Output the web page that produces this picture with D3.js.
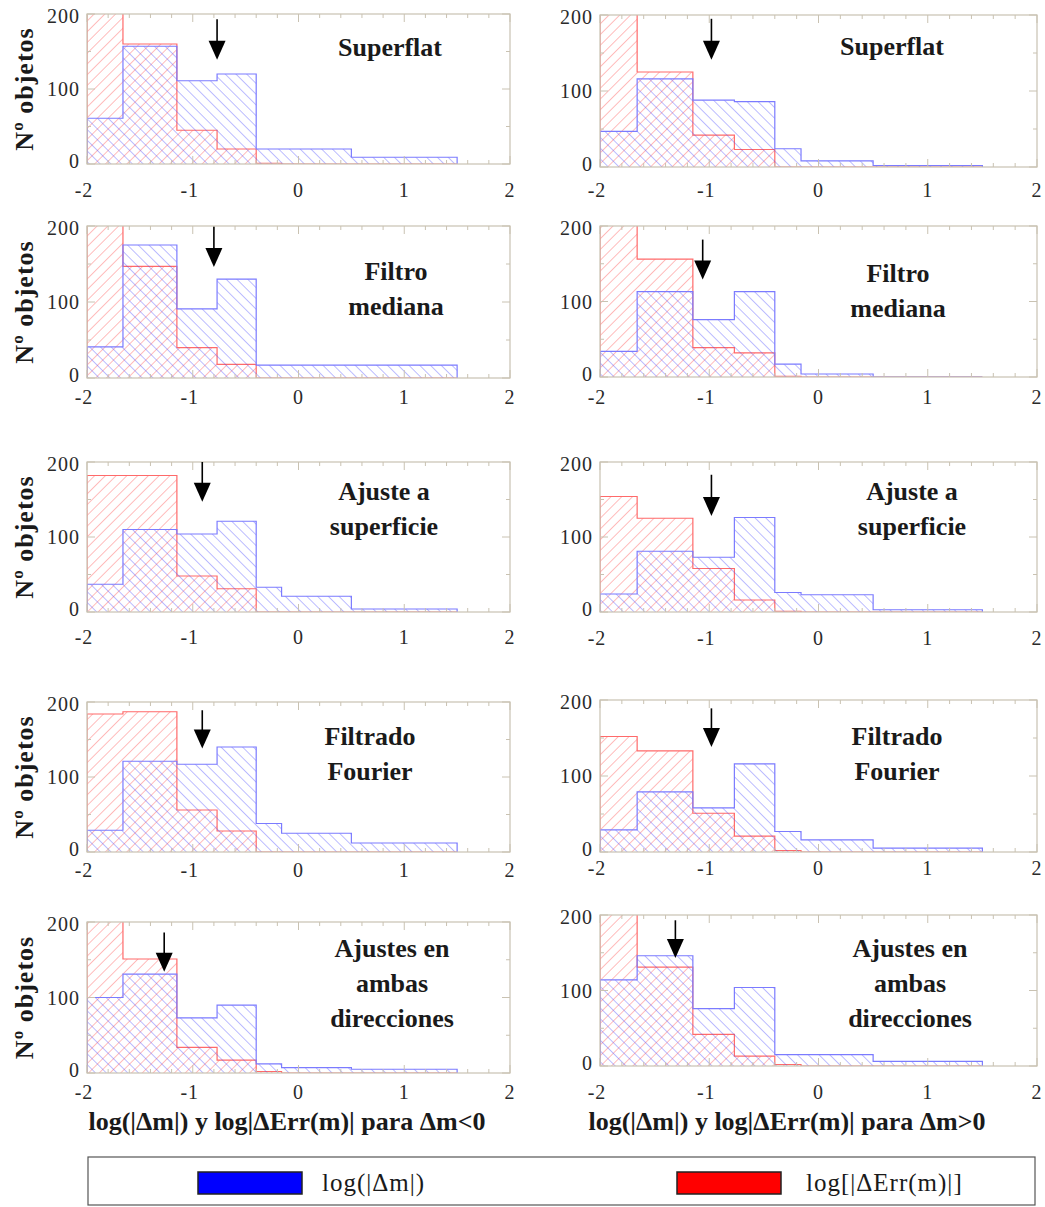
<!DOCTYPE html>
<html>
<head>
<meta charset="utf-8">
<script src="https://cdn.jsdelivr.net/npm/d3@7"></script>
<style>
  html, body { margin: 0; padding: 0; background: #ffffff; }
  svg { display: block; }
  .tick-label { font-family: "Liberation Serif", "DejaVu Serif", serif; font-size: 20px; fill: #2a2a2a; letter-spacing: 1px; }
  .bold-label { font-family: "Liberation Serif", "DejaVu Serif", serif; font-weight: bold; font-size: 26px; fill: #1a1a1a; }
  .legend-label { font-family: "Liberation Serif", "DejaVu Serif", serif; font-size: 25px; fill: #1a1a1a; letter-spacing: 1px; }
</style>
</head>
<body>
<svg id="chart" width="1045" height="1207"></svg>
<script>
// Histogram bin edges in log10 units (shared by every panel)
const binEdges = [-2, -1.66, -1.15, -0.77, -0.40, -0.16, 0.50, 1.50];

// Methods, one per row
const methods = ["Superflat", "Filtro\nmediana", "Ajuste a\nsuperficie", "Filtrado\nFourier", "Ajustes en\nambas\ndirecciones"];

// Counts per bin, Δm < 0 (left column); values above 200 run off the top of the frame
const blueNeg = [
  [61, 157, 111, 120, 20, 20, 9],
  [41, 175, 91, 130, 17, 17, 17],
  [37, 110, 104, 121, 33, 21, 4],
  [29, 121, 117, 140, 38, 25, 12],
  [100, 131, 73, 90, 12, 7, 5]
];
const redNeg = [
  [230, 160, 45, 20, 1, 0, 0],
  [230, 147, 40, 18, 0, 0, 0],
  [182, 182, 48, 31, 0, 0, 0],
  [184, 187, 56, 28, 0, 0, 0],
  [230, 151, 34, 17, 2, 0, 0]
];

// Counts per bin, Δm > 0 (right column)
const bluePos = [
  [47, 116, 88, 86, 24, 8, 2],
  [34, 113, 76, 113, 17, 4, 0],
  [24, 81, 73, 126, 26, 23, 3],
  [29, 79, 58, 116, 27, 16, 5],
  [114, 146, 76, 104, 15, 15, 6]
];
const redPos = [
  [230, 125, 42, 23, 0, 0, 0],
  [230, 156, 39, 32, 1, 0, 0],
  [154, 125, 58, 16, 1, 0, 0],
  [152, 133, 51, 21, 2, 0, 0],
  [230, 131, 42, 13, 2, 0, 0]
];

// Marker arrows: [x position, y of tail, y of tip] in data units
const arrowsNeg = [[-0.77, 193, 139], [-0.80, 199, 146], [-0.91, 200, 147], [-0.91, 189, 138], [-1.27, 186, 134]];
const arrowsPos = [[-0.98, 195, 141], [-1.06, 182, 129], [-0.98, 183, 128], [-0.98, 189, 138], [-1.31, 193, 143]];

// Axis ticks
const xTicks = [-2, -1, 0, 1, 2];
const yTicks = [0, 100, 200];
const xTitles = ["log(|\u0394m|) y log|\u0394Err(m)| para \u0394m<0", "log(|\u0394m|) y log|\u0394Err(m)| para \u0394m>0"];
const yTitle = "N\u00BA objetos";
const legendLabels = ["log(|\u0394m|)", "log[|\u0394Err(m)|]"];

// ---- layout ----
const columns = [
  { x0: 87, x1: 510, frames: [[14, 164], [226, 378], [462, 612], [702, 852], [922, 1073]],
    tickY: [190, 397, 637, 870, 1092], labelX: [390, 396, 384, 370, 392], labelY: [56, 280, 500, 745, 957],
    blue: blueNeg, red: redNeg, arrows: arrowsNeg, titleX: 287 },
  { x0: 600, x1: 1037, frames: [[15, 167], [226, 377], [462, 612], [700, 852], [915, 1066]],
    tickY: [190, 397, 638, 868, 1092], labelX: [892, 898, 912, 897, 910], labelY: [55, 282, 500, 745, 957],
    blue: bluePos, red: redPos, arrows: arrowsPos, titleX: 787 }
];
const lineGap = 35;

const svg = d3.select("#chart");
const defs = svg.append("defs");

function hatch(id, color, angle) {
  const p = defs.append("pattern")
    .attr("id", id)
    .attr("patternUnits", "userSpaceOnUse")
    .attr("width", 7.6).attr("height", 7.6)
    .attr("patternTransform", `rotate(${angle})`);
  p.append("line")
    .attr("x1", 0).attr("y1", -1).attr("x2", 0).attr("y2", 9)
    .attr("stroke", color).attr("stroke-width", 1.3);
}
hatch("hatch-blue", "rgba(70,70,255,0.55)", -45);
hatch("hatch-red", "rgba(255,70,70,0.55)", 45);

columns.forEach((col, ci) => {
  col.frames.forEach((fr, ri) => {
    const x = d3.scaleLinear().domain([-2, 2]).range([col.x0, col.x1]);
    const y = d3.scaleLinear().domain([0, 200]).range([fr[1], fr[0]]);
    const g = svg.append("g");
    const clipId = `clip-${ci}-${ri}`;
    defs.append("clipPath").attr("id", clipId)
      .append("rect").attr("x", col.x0).attr("y", fr[0])
      .attr("width", col.x1 - col.x0).attr("height", fr[1] - fr[0]);

    const plot = g.append("g").attr("clip-path", `url(#${clipId})`);

    const bins = (vals) => vals.map((v, i) => ({ x0: binEdges[i], x1: binEdges[i + 1], v }));
    const stepPath = (vals) => {
      const pts = [[binEdges[0], 0]];
      vals.forEach((v, i) => { pts.push([binEdges[i], v]); pts.push([binEdges[i + 1], v]); });
      pts.push([binEdges[binEdges.length - 1], 0]);
      return d3.line().x(d => x(d[0])).y(d => y(d[1]))(pts);
    };

    [["red", col.red[ri], "url(#hatch-red)", "#ff6a6a"],
     ["blue", col.blue[ri], "url(#hatch-blue)", "#7b7bff"]].forEach(([name, vals, fill, stroke]) => {
      plot.append("g").selectAll("rect").data(bins(vals)).join("rect")
        .attr("x", d => x(d.x0)).attr("width", d => x(d.x1) - x(d.x0))
        .attr("y", d => y(d.v)).attr("height", d => y(0) - y(d.v))
        .attr("fill", fill);
      plot.append("path").attr("d", stepPath(vals))
        .attr("fill", "none").attr("stroke", stroke).attr("stroke-width", 1.2);
    });

    // frame with inward ticks
    const frameColor = "#c9c2b2";
    g.append("rect").attr("x", col.x0).attr("y", fr[0])
      .attr("width", col.x1 - col.x0).attr("height", fr[1] - fr[0])
      .attr("fill", "none").attr("stroke", frameColor).attr("stroke-width", 1.2);
    const minorX = d3.range(-2, 2.001, 0.2);
    minorX.forEach(v => {
      const major = Math.abs(v - Math.round(v)) < 1e-6;
      const len = major ? 8 : 4;
      g.append("line").attr("x1", x(v)).attr("x2", x(v)).attr("y1", fr[1]).attr("y2", fr[1] - len)
        .attr("stroke", frameColor).attr("stroke-width", 1);
      g.append("line").attr("x1", x(v)).attr("x2", x(v)).attr("y1", fr[0]).attr("y2", fr[0] + len)
        .attr("stroke", frameColor).attr("stroke-width", 1);
    });
    d3.range(0, 201, 50).forEach(v => {
      const len = v % 100 === 0 ? 8 : 4;
      g.append("line").attr("x1", col.x0).attr("x2", col.x0 + len).attr("y1", y(v)).attr("y2", y(v))
        .attr("stroke", frameColor).attr("stroke-width", 1);
      g.append("line").attr("x1", col.x1).attr("x2", col.x1 - len).attr("y1", y(v)).attr("y2", y(v))
        .attr("stroke", frameColor).attr("stroke-width", 1);
    });

    // tick labels
    g.selectAll("text.ytick").data(yTicks).join("text")
      .attr("class", "tick-label ytick")
      .attr("x", col.x0 - 7)
      .attr("y", d => y(d) + (d === 0 ? -3 : d === 200 ? 2 : 0))
      .attr("text-anchor", "end").attr("dominant-baseline", "central")
      .text(d => d);
    g.selectAll("text.xtick").data(xTicks).join("text")
      .attr("class", "tick-label xtick")
      .attr("x", d => x(d) + (d < 0 ? -3 : 0))
      .attr("y", col.tickY[ri])
      .attr("text-anchor", "middle").attr("dominant-baseline", "central")
      .text(d => d);

    // method label
    const lines = methods[ri].split("\n");
    g.append("text").attr("class", "bold-label")
      .attr("text-anchor", "middle")
      .selectAll("tspan").data(lines).join("tspan")
      .attr("x", col.labelX[ri])
      .attr("y", (d, i) => col.labelY[ri] + i * lineGap)
      .text(d => d);

    // arrow marker
    const [ax, ay0, ay1] = col.arrows[ri];
    const headLen = 19, headW = 8.5;
    g.append("line")
      .attr("x1", x(ax)).attr("x2", x(ax))
      .attr("y1", y(ay0)).attr("y2", y(ay1) - headLen + 2)
      .attr("stroke", "#000").attr("stroke-width", 1.6);
    g.append("path")
      .attr("d", `M${x(ax) - headW},${y(ay1) - headLen} L${x(ax) + headW},${y(ay1) - headLen} L${x(ax)},${y(ay1)} Z`)
      .attr("fill", "#000");

    // y axis title (left column only)
    if (ci === 0) {
      const cy = (fr[0] + fr[1]) / 2;
      g.append("text").attr("class", "bold-label")
        .attr("transform", `translate(33,${cy}) rotate(-90)`)
        .attr("text-anchor", "middle")
        .style("letter-spacing", "1px")
        .text(yTitle);
    }
  });

  // x axis title under the bottom row
  svg.append("text").attr("class", "bold-label")
    .attr("x", col.titleX).attr("y", 1130)
    .attr("text-anchor", "middle")
    .text(xTitles[ci]);
});

// legend
const lg = svg.append("g");
lg.append("rect").attr("x", 88).attr("y", 1157).attr("width", 947).attr("height", 48)
  .attr("fill", "#fff").attr("stroke", "#555").attr("stroke-width", 1.2);
const legendItems = [
  { label: legendLabels[0], color: "#0000ff", sx: 198, tx: 322 },
  { label: legendLabels[1], color: "#ff0000", sx: 677, tx: 806 }
];
legendItems.forEach(it => {
  lg.append("rect").attr("x", it.sx).attr("y", 1172).attr("width", 104).attr("height", 22)
    .attr("fill", it.color).attr("stroke", "#222").attr("stroke-width", 1.5);
  lg.append("text").attr("class", "legend-label")
    .attr("x", it.tx).attr("y", 1191).text(it.label);
});
</script>
</body>
</html>
